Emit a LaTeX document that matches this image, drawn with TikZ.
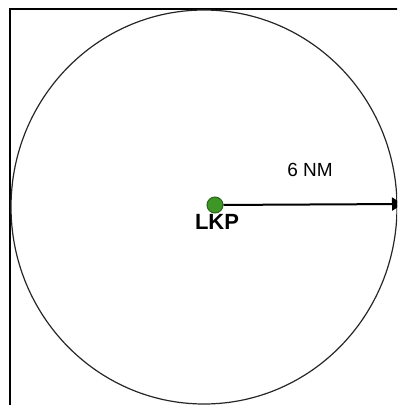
\documentclass[tikz,border=0pt]{standalone}
\usepackage{fontspec}
\setmainfont{Liberation Sans}
\usetikzlibrary{arrows.meta}
\definecolor{lkpgreen}{RGB}{62,150,38}
\definecolor{lkpdark}{RGB}{40,100,25}
\tikzset{
  label text/.style={font=\fontsize{19}{22}\selectfont, inner sep=0pt},
  lkp dot/.style={circle, fill=lkpgreen, draw=lkpdark, line width=1pt, minimum size=16pt, inner sep=0pt}
}
\begin{document}
\begin{tikzpicture}[x=1pt, y=-1pt]
  \useasboundingbox (0,0) rectangle (397,405);
  \clip (0,0) rectangle (397,405);
  \draw[line width = 2pt] (9.5,420) -- (9.5,8.5) -- (420,8.5);
  \draw[line width = 1.2pt, draw=black!85] (204,207) ellipse [x radius=193, y radius=197];
  \node[lkp dot] (lkp) at (215,205) {};
  \coordinate (rim) at (403,204);
  \draw[line width = 2pt, -{Triangle[length=11pt, width=13pt]}] (lkp) -- (rim);
  \node[label text] (dist) at (310,170) {6 NM};
  \node[label text, font=\fontsize{22}{26}\selectfont\bfseries] (name) at (217,222) {LKP};
\end{tikzpicture}
\end{document}
